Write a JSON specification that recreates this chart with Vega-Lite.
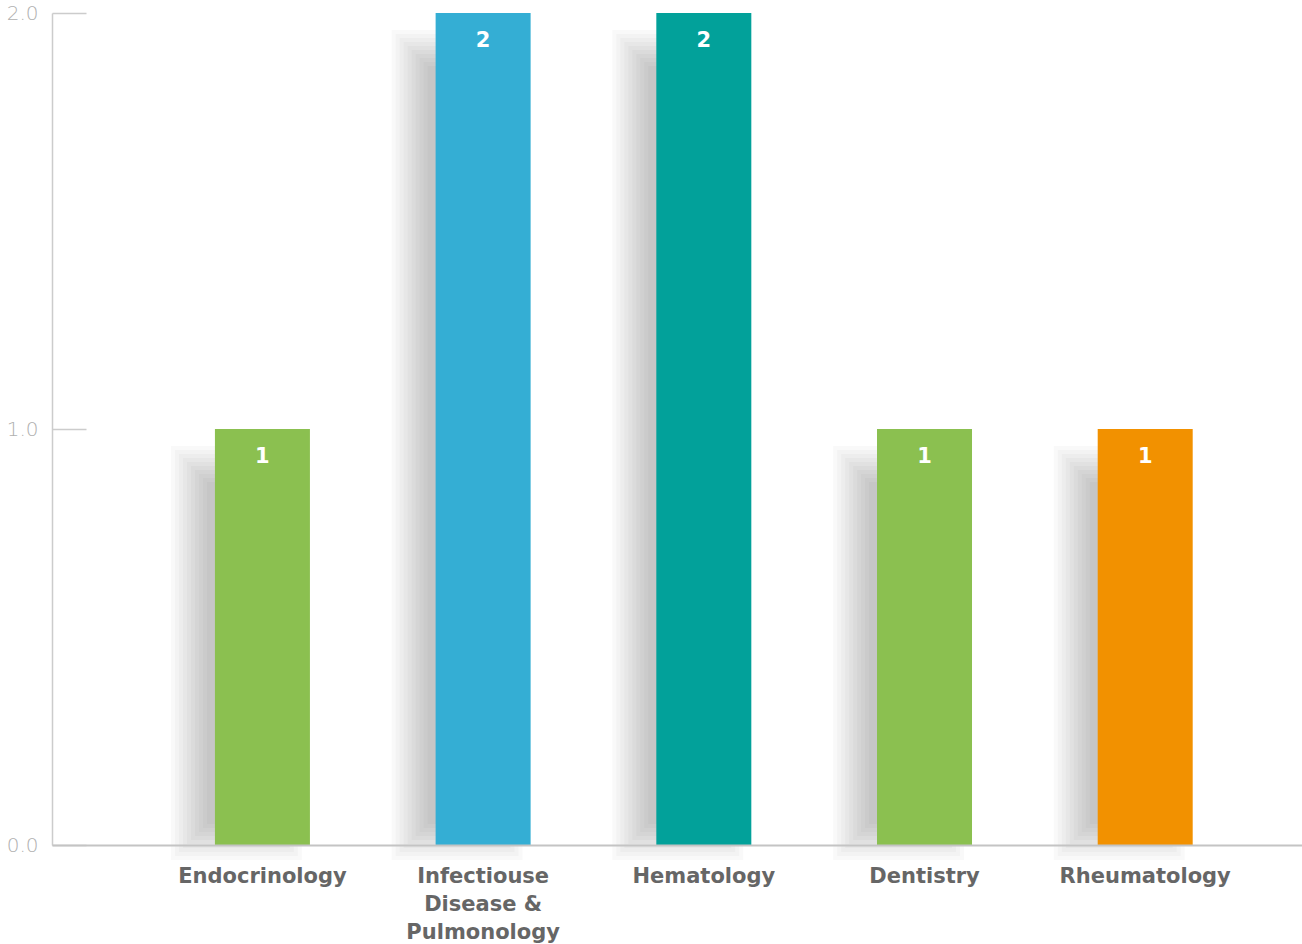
{
  "$schema": "https://vega.github.io/schema/vega-lite/v6.json",
  "width": 1250,
  "height": 832,
  "autosize": "none",
  "padding": {"left": 52, "top": 13, "right": 0, "bottom": 99},
  "background": "white",
  "config": {"view": {"stroke": null}, "font": "DejaVu Sans"},
  "data": {"values": [
    {"category": "Endocrinology", "value": 1},
    {"category": "Infectiouse Disease & Pulmonology", "value": 2},
    {"category": "Hematology", "value": 2},
    {"category": "Dentistry", "value": 1},
    {"category": "Rheumatology", "value": 1}
  ]},
  "encoding": {
    "x": {"field": "category", "type": "nominal", "sort": null,
      "scale": {"paddingInner": 0, "paddingOuter": 0.332, "align": 0.683},
      "axis": {"title": null, "labelAngle": 0, "ticks": false, "zindex": 1,
        "domainColor": "#c4c4c4", "domainWidth": 2,
        "labelFont": "DejaVu Sans", "labelFontWeight": "bold", "labelFontSize": 21, "labelColor": "#666666",
        "labelPadding": 20, "labelLineHeight": 28, "labelBaseline": "top", "labelLimit": 400,
        "labelExpr": "datum.value == 'Infectiouse Disease & Pulmonology' ? ['Infectiouse', 'Disease &', 'Pulmonology'] : datum.value"}},
    "y": {"field": "value", "type": "quantitative",
      "scale": {"domain": [0, 2], "nice": false},
      "axis": {"title": null, "values": [0, 1, 2], "format": ".1f", "grid": false,
        "domainColor": "#cccccc", "domainWidth": 1.5, "tickColor": "#cccccc", "tickWidth": 1.5,
        "tickSize": -34, "labelPadding": 48, "labelFont": "DejaVu Sans", "labelFontWeight": 200,
        "labelFontSize": 20, "labelColor": "#b0b0b0"}}
  },
  "layer": [
    {"mark": {"type": "bar", "color": "black", "opacity": 0.025, "width": 59, "xOffset": -26, "yOffset": 53, "y2Offset": -21}, "encoding": {"y2": {"datum": 0}}},
    {"mark": {"type": "bar", "color": "black", "opacity": 0.025, "width": 67, "xOffset": -26, "yOffset": 49, "y2Offset": -17}, "encoding": {"y2": {"datum": 0}}},
    {"mark": {"type": "bar", "color": "black", "opacity": 0.025, "width": 75, "xOffset": -26, "yOffset": 45, "y2Offset": -13}, "encoding": {"y2": {"datum": 0}}},
    {"mark": {"type": "bar", "color": "black", "opacity": 0.025, "width": 83, "xOffset": -26, "yOffset": 41, "y2Offset": -9}, "encoding": {"y2": {"datum": 0}}},
    {"mark": {"type": "bar", "color": "black", "opacity": 0.025, "width": 91, "xOffset": -26, "yOffset": 37, "y2Offset": -5}, "encoding": {"y2": {"datum": 0}}},
    {"mark": {"type": "bar", "color": "black", "opacity": 0.025, "width": 99, "xOffset": -26, "yOffset": 33, "y2Offset": -1}, "encoding": {"y2": {"datum": 0}}},
    {"mark": {"type": "bar", "color": "black", "opacity": 0.025, "width": 107, "xOffset": -26, "yOffset": 29, "y2Offset": 3}, "encoding": {"y2": {"datum": 0}}},
    {"mark": {"type": "bar", "color": "black", "opacity": 0.025, "width": 115, "xOffset": -26, "yOffset": 25, "y2Offset": 7}, "encoding": {"y2": {"datum": 0}}},
    {"mark": {"type": "bar", "color": "black", "opacity": 0.025, "width": 123, "xOffset": -26, "yOffset": 21, "y2Offset": 11}, "encoding": {"y2": {"datum": 0}}},
    {"mark": {"type": "bar", "color": "black", "opacity": 0.025, "width": 131, "xOffset": -26, "yOffset": 17, "y2Offset": 15}, "encoding": {"y2": {"datum": 0}}},
    {"mark": {"type": "bar", "width": 95, "opacity": 1},
     "encoding": {"color": {"field": "category", "type": "nominal", "legend": null,
       "scale": {"domain": ["Endocrinology", "Infectiouse Disease & Pulmonology", "Hematology", "Dentistry", "Rheumatology"],
                 "range": ["#8BC050", "#34AED4", "#02A19A", "#8BC050", "#F29100"]}}}},
    {"mark": {"type": "text", "color": "white", "font": "DejaVu Sans", "fontWeight": "bold", "fontSize": 21, "baseline": "middle", "dy": 28},
     "encoding": {"text": {"field": "value", "type": "quantitative"}}}
  ]
}
